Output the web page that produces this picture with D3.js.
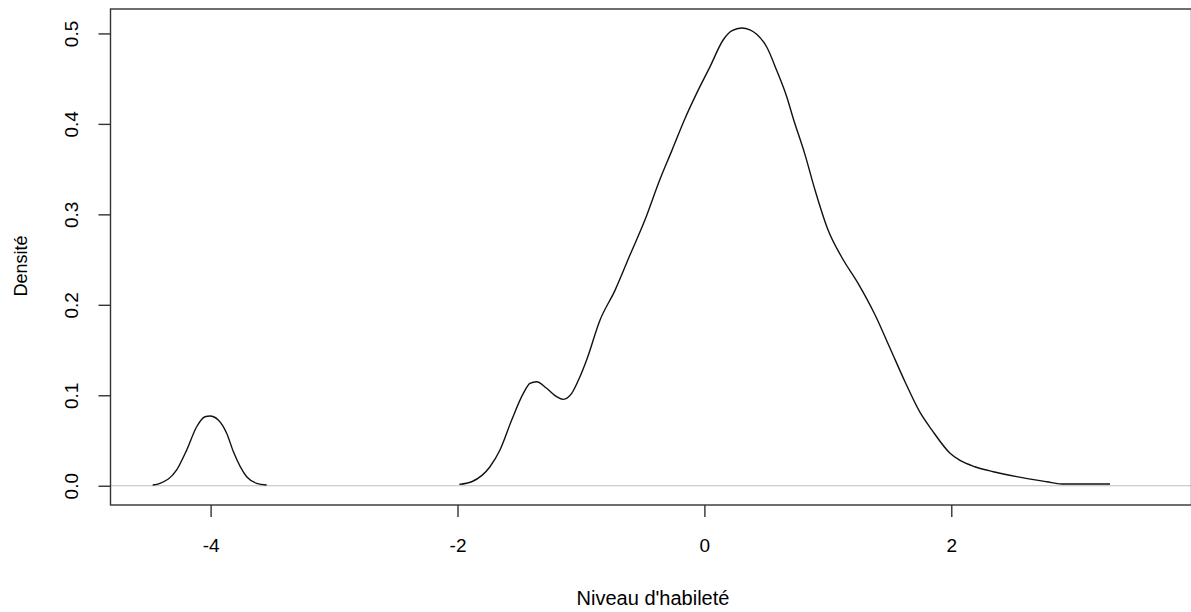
<!DOCTYPE html>
<html>
<head>
<meta charset="utf-8">
<script src="https://cdn.jsdelivr.net/npm/d3@7"></script>
<style>
  html, body { margin: 0; padding: 0; background: #fff; }
  svg { display: block; }
  text { font-family: "Liberation Sans", Arial, sans-serif; fill: #000; }
</style>
</head>
<body>
<svg id="chart" width="1191" height="612"></svg>
<script>
// ---- data ----
const xTicks = [-4, -2, 0, 2];
const yTicks = [0.0, 0.1, 0.2, 0.3, 0.4, 0.5];
const yTickLabels = ["0.0", "0.1", "0.2", "0.3", "0.4", "0.5"];
const xLabel = "Niveau d'habileté";
const yLabel = "Densité";

// first segment (bump around -4)
const seg1X = [-4.469, -4.410, -4.275, -4.194, -4.113, -4.046, -4.005, -3.938, -3.870, -3.816, -3.708, -3.627, -3.546];
const seg1Y = [0.0008, 0.0027, 0.0174, 0.0394, 0.0652, 0.0763, 0.0771, 0.0727, 0.058, 0.0378, 0.010, 0.0027, 0.0008];

// second segment (main density)
const seg2X = [-1.985, -1.885, -1.737, -1.656, -1.561, -1.467, -1.413, -1.359, -1.278, -1.197, -1.143, -1.075, -1.008, -0.954,
  -0.846, -0.724, -0.603, -0.481, -0.362, -0.262, -0.157, -0.062, 0.045, 0.153, 0.224, 0.302, 0.369, 0.424, 0.505, 0.586,
  0.667, 0.720, 0.815, 0.896, 1.001, 1.115, 1.244, 1.382, 1.504, 1.625, 1.747, 1.841, 1.990, 2.071, 2.192, 2.340, 2.530,
  2.773, 2.894, 3.286];
const seg2Y = [0.0015, 0.0044, 0.021, 0.0395, 0.0726, 0.102, 0.1132, 0.115, 0.1077, 0.0984, 0.0955, 0.1021, 0.1205, 0.139,
  0.183, 0.216, 0.255, 0.294, 0.338, 0.371, 0.406, 0.434, 0.463, 0.493, 0.503, 0.506, 0.504, 0.499, 0.485, 0.459,
  0.430, 0.406, 0.366, 0.327, 0.283, 0.252, 0.224, 0.189, 0.152, 0.115, 0.081, 0.062, 0.036, 0.028, 0.021, 0.0155, 0.010,
  0.0044, 0.0019, 0.0019];

// ---- layout ----
const plotL = 110.5, plotR = 1191.5, plotT = 9, plotB = 505;
const x = d3.scaleLinear().domain([-4.811, 3.946]).range([plotL, plotR]);
const y = d3.scaleLinear().domain([-0.0213, 0.527]).range([plotB, plotT]);

const svg = d3.select("#chart");

// zero line
svg.append("line")
  .attr("x1", plotL).attr("x2", plotR)
  .attr("y1", y(0)).attr("y2", y(0))
  .attr("stroke", "#bebebe").attr("stroke-width", 1.2);

// curves
const line = d3.line().x(d => x(d[0])).y(d => y(d[1])).curve(d3.curveMonotoneX);
[[seg1X, seg1Y], [seg2X, seg2Y]].forEach(([xs, ys]) => {
  svg.append("path")
    .datum(xs.map((v, i) => [v, ys[i]]))
    .attr("d", line)
    .attr("fill", "none")
    .attr("stroke", "#111")
    .attr("stroke-width", 1.4);
});

// box
svg.append("rect")
  .attr("x", plotL).attr("y", plotT)
  .attr("width", plotR - plotL).attr("height", plotB - plotT)
  .attr("fill", "none").attr("stroke", "#333").attr("stroke-width", 1.4);

// x axis
const xAxis = d3.axisBottom(x).tickValues(xTicks).tickSize(12).tickPadding(22)
  .tickFormat(d => d3.format("d")(d).replace("−", "-"));
const gx = svg.append("g").attr("transform", `translate(0,${plotB})`).call(xAxis);
gx.select(".domain").remove();
gx.selectAll(".tick line").attr("stroke", "#333").attr("stroke-width", 1.4);
gx.selectAll(".tick text").attr("font-size", 19).attr("font-family", "Liberation Sans, Arial, sans-serif").attr("fill", "#000");

// y axis
const yAxis = d3.axisLeft(y).tickValues(yTicks).tickSize(12)
  .tickFormat((d, i) => yTickLabels[i]);
const gy = svg.append("g").attr("transform", `translate(${plotL},0)`).call(yAxis);
gy.select(".domain").remove();
gy.selectAll(".tick line").attr("stroke", "#333").attr("stroke-width", 1.4);
gy.selectAll(".tick text")
  .attr("font-size", 19).attr("font-family", "Liberation Sans, Arial, sans-serif").attr("fill", "#000")
  .attr("x", null).attr("dy", null)
  .attr("text-anchor", "middle")
  .attr("transform", "translate(-39,0) rotate(-90)")
  .attr("dominant-baseline", "central");

// axis titles
svg.append("text")
  .attr("x", (plotL + plotR) / 2 + 2).attr("y", 605)
  .attr("text-anchor", "middle").attr("font-size", 20)
  .text(xLabel);
svg.append("text")
  .attr("transform", `translate(27,${(plotT + plotB) / 2 + 9}) rotate(-90)`)
  .attr("text-anchor", "middle").attr("font-size", 18)
  .text(yLabel);
</script>
</body>
</html>
